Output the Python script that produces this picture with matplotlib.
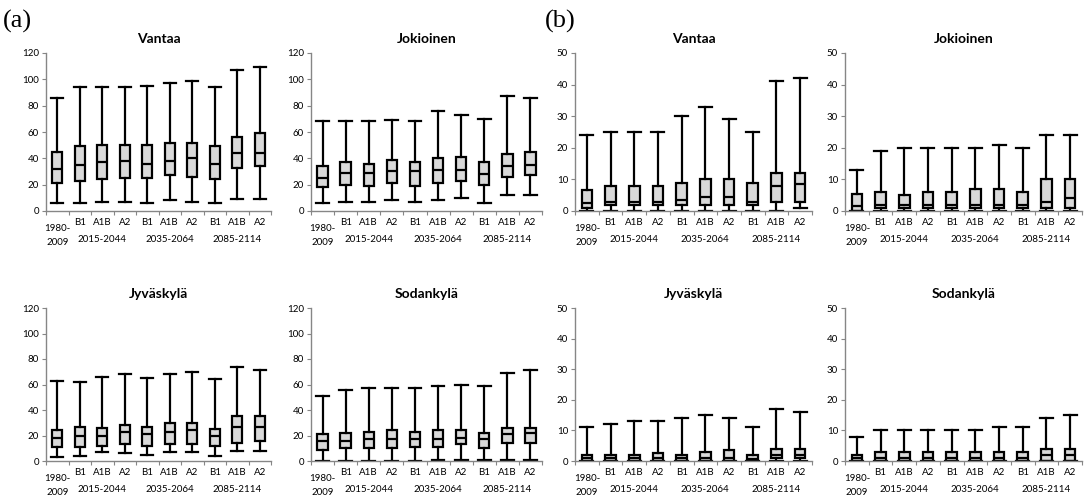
import matplotlib.pyplot as plt

plt.rcParams["font.family"] = ["Lato", "DejaVu Sans"]

scenarios = ["", "B1", "A1B", "A2", "B1", "A1B", "A2", "B1", "A1B", "A2"]
periods = ["2015-2044", "2035-2064", "2085-2114"]
baseline = "1980-\n2009"

# rows: whisker low, q1, median, q3, whisker high
vantaa_a = [[6, 21, 32, 45, 86], [6, 23, 35, 49, 94], [7, 24, 37, 50, 94], [7, 25, 38, 50, 94],
            [6, 25, 36, 50, 95], [8, 27, 38, 52, 97], [7, 26, 40, 52, 99],
            [6, 24, 36, 49, 94], [9, 33, 44, 56, 107], [9, 34, 44, 59, 109]]
jokioinen_a = [[6, 18, 25, 34, 68], [7, 20, 29, 37, 68], [7, 19, 29, 36, 68], [8, 21, 30, 39, 69],
               [7, 19, 30, 37, 68], [8, 21, 31, 40, 76], [10, 23, 31, 41, 73],
               [6, 20, 28, 37, 70], [12, 26, 34, 43, 87], [12, 27, 35, 45, 86]]
jyvaskyla_a = [[3, 11, 18, 24, 63], [4, 11, 20, 27, 62], [7, 12, 20, 26, 66], [6, 13, 23, 28, 68],
               [5, 12, 21, 27, 65], [7, 13, 23, 30, 68], [7, 13, 24, 30, 70],
               [4, 12, 20, 25, 64], [8, 14, 27, 35, 74], [8, 16, 27, 35, 71]]
sodankyla_a = [[0, 9, 16, 21, 51], [0, 10, 16, 22, 56], [0, 10, 17, 23, 57], [0, 10, 17, 24, 57],
               [0, 11, 17, 23, 57], [1, 11, 17, 24, 59], [1, 13, 18, 24, 60],
               [1, 10, 17, 22, 59], [1, 14, 21, 26, 69], [1, 14, 22, 26, 71]]

vantaa_b = [[0, 1, 2.5, 6.5, 24], [0, 2, 3, 8, 25], [0, 2, 3, 8, 25], [0, 2, 3, 8, 25],
            [0, 2, 3.5, 9, 30], [0, 2, 4.5, 10, 33], [0, 2, 4.5, 10, 29],
            [0, 2, 3, 9, 25], [0, 3, 8, 12, 41], [1, 3, 8.5, 12, 42]]
jokioinen_b = [[0, 0, 1.5, 5.5, 13], [0, 1, 2, 6, 19], [0, 1, 2, 5, 20], [0, 1, 2, 6, 20],
               [0, 1, 2, 6, 20], [0, 1, 2, 7, 20], [0, 1, 2, 7, 21],
               [0, 1, 2, 6, 20], [0, 1, 3, 10, 24], [0, 1, 4, 10, 24]]
jyvaskyla_b = [[0, 0, 1, 2, 11], [0, 0, 1, 2, 12], [0, 0, 1, 2, 13], [0, 0, 1, 2.5, 13],
               [0, 0, 1, 2, 14], [0, 0, 1, 3, 15], [0, 0, 1, 3.5, 14],
               [0, 0, 0.5, 2, 11], [0, 1, 2, 4, 17], [0, 1, 2, 4, 16]]
sodankyla_b = [[0, 0, 1, 2, 8], [0, 0, 1, 3, 10], [0, 0, 1, 3, 10], [0, 0, 1, 3, 10],
               [0, 0, 1, 3, 10], [0, 0, 1, 3, 10], [0, 0, 1, 3, 11],
               [0, 0, 1, 3, 11], [0, 0, 2, 4, 14], [0, 0, 2, 4, 15]]

W, H = 1085, 498
GRAY = "#868686"


def px_axes(fig, left, top, right, bottom):
    return fig.add_axes([left / W, 1 - bottom / H, (right - left) / W, (bottom - top) / H])


def draw_panel(ax, rows, title, ymax, ystep):
    stats = [dict(whislo=r[0], q1=r[1], med=r[2], q3=r[3], whishi=r[4], fliers=[]) for r in rows]
    ax.bxp(stats, positions=range(1, 11), widths=0.45, capwidths=0.55, patch_artist=True,
           showfliers=False,
           boxprops=dict(facecolor="#d9d9d9", edgecolor="black", linewidth=1.6),
           whiskerprops=dict(color="black", linewidth=1.6),
           capprops=dict(color="black", linewidth=1.6),
           medianprops=dict(color="black", linewidth=1.6))
    ax.set_xlim(0.5, 10.5)
    ax.set_ylim(0, ymax)
    ax.set_yticks(range(0, ymax + 1, ystep))
    ax.tick_params(axis="y", labelsize=7, color=GRAY, length=3, width=0.8, pad=2)
    ax.set_xticks([i + 0.5 for i in range(0, 11)])
    ax.set_xticklabels([])
    ax.tick_params(axis="x", which="major", color=GRAY, length=3, width=0.8)
    ax.set_xticks(range(1, 11), minor=True)
    ax.set_xticklabels(scenarios, minor=True, fontsize=7)
    ax.tick_params(axis="x", which="minor", length=0, pad=5)
    for s in ["top", "right"]:
        ax.spines[s].set_visible(False)
    for s in ["left", "bottom"]:
        ax.spines[s].set_color(GRAY)
        ax.spines[s].set_linewidth(1.0)
    ax.set_title(title, fontsize=10, fontweight="bold", pad=7)
    tr = ax.get_xaxis_transform()
    ax.text(1, -0.085, baseline, transform=tr, ha="center", va="top", fontsize=7,
            linespacing=1.7)
    for x, p in zip([3, 6, 9], periods):
        ax.text(x, -0.155, p, transform=tr, ha="center", va="top", fontsize=7)


fig = plt.figure(figsize=(W / 100, H / 100), dpi=100)

cols = [(46, 271), (311, 542), (575, 812), (845, 1082)]
panels = [
    (vantaa_a, "Vantaa", 120, 20), (jokioinen_a, "Jokioinen", 120, 20),
    (vantaa_b, "Vantaa", 50, 10), (jokioinen_b, "Jokioinen", 50, 10),
    (jyvaskyla_a, "Jyväskylä", 120, 20), (sodankyla_a, "Sodankylä", 120, 20),
    (jyvaskyla_b, "Jyväskylä", 50, 10), (sodankyla_b, "Sodankylä", 50, 10),
]
for i, (rows, title, ymax, ystep) in enumerate(panels):
    left, right = cols[i % 4]
    top, bottom = (53, 211) if i < 4 else (308, 461)
    ax = px_axes(fig, left, top, right, bottom)
    draw_panel(ax, rows, title, ymax, ystep)

fig.text(3 / W, 1 - 21 / H, "(a)", family="Liberation Serif", fontsize=19, va="center")
fig.text(545 / W, 1 - 21 / H, "(b)", family="Liberation Serif", fontsize=19, va="center")

fig.savefig("out.png", dpi=100)
